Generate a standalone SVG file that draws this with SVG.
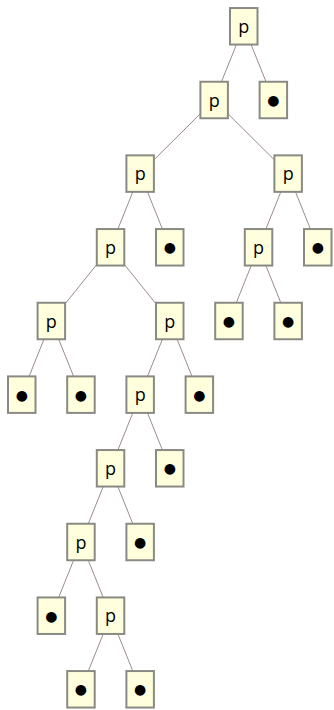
<svg xmlns="http://www.w3.org/2000/svg" width="334" height="710" viewBox="0 0 334 710">
<style>
.box{fill:#ffffdd;stroke:#8a8a84;stroke-width:2}
.lbl{font-family:"Open Sans","DejaVu Sans",sans-serif;font-size:18px;fill:#000;text-anchor:middle}
.dot{font-family:"DejaVu Sans",sans-serif;font-size:14px;fill:#000;text-anchor:middle}
#edges line{stroke:#9e8c8c;stroke-width:1}
</style>
<defs>
<rect id="bx" class="box" x="-13.75" y="-18.25" width="27.5" height="36.5"/>
</defs>
<rect width="334" height="710" fill="#fff"/>
<g id="edges">
<line x1="243.75" y1="26.3" x2="214.15" y2="100"/>
<line x1="243.75" y1="26.3" x2="273.35" y2="100"/>
<line x1="214.15" y1="100" x2="140.15" y2="173.6"/>
<line x1="214.15" y1="100" x2="288.15" y2="173.6"/>
<line x1="140.15" y1="173.6" x2="110.55" y2="247.3"/>
<line x1="140.15" y1="173.6" x2="169.75" y2="247.3"/>
<line x1="288.15" y1="173.6" x2="258.55" y2="247.3"/>
<line x1="288.15" y1="173.6" x2="317.75" y2="247.3"/>
<line x1="258.55" y1="247.3" x2="228.95" y2="321"/>
<line x1="258.55" y1="247.3" x2="288.15" y2="321"/>
<line x1="110.55" y1="247.3" x2="51.35" y2="321"/>
<line x1="110.55" y1="247.3" x2="169.75" y2="321"/>
<line x1="51.35" y1="321" x2="21.75" y2="394.65"/>
<line x1="51.35" y1="321" x2="80.95" y2="394.65"/>
<line x1="169.75" y1="321" x2="140.15" y2="394.65"/>
<line x1="169.75" y1="321" x2="199.35" y2="394.65"/>
<line x1="140.15" y1="394.65" x2="110.55" y2="468.3"/>
<line x1="140.15" y1="394.65" x2="169.75" y2="468.3"/>
<line x1="110.55" y1="468.3" x2="80.95" y2="542"/>
<line x1="110.55" y1="468.3" x2="140.15" y2="542"/>
<line x1="80.95" y1="542" x2="51.35" y2="615.7"/>
<line x1="80.95" y1="542" x2="110.55" y2="615.7"/>
<line x1="110.55" y1="615.7" x2="80.95" y2="689.3"/>
<line x1="110.55" y1="615.7" x2="140.15" y2="689.3"/>
</g>
<g id="n0" transform="translate(243.75,26.3)"><use href="#bx"/><text class="lbl" y="6.5">p</text></g>
<g id="n1" transform="translate(214.15,100)"><use href="#bx"/><text class="lbl" y="6.5">p</text></g>
<g id="n2" transform="translate(273.35,100)"><use href="#bx"/><text class="dot" y="5">●</text></g>
<g id="n3" transform="translate(140.15,173.6)"><use href="#bx"/><text class="lbl" y="6.5">p</text></g>
<g id="n4" transform="translate(288.15,173.6)"><use href="#bx"/><text class="lbl" y="6.5">p</text></g>
<g id="n5" transform="translate(110.55,247.3)"><use href="#bx"/><text class="lbl" y="6.5">p</text></g>
<g id="n6" transform="translate(169.75,247.3)"><use href="#bx"/><text class="dot" y="5">●</text></g>
<g id="n7" transform="translate(258.55,247.3)"><use href="#bx"/><text class="lbl" y="6.5">p</text></g>
<g id="n8" transform="translate(317.75,247.3)"><use href="#bx"/><text class="dot" y="5">●</text></g>
<g id="n9" transform="translate(51.35,321)"><use href="#bx"/><text class="lbl" y="6.5">p</text></g>
<g id="n10" transform="translate(169.75,321)"><use href="#bx"/><text class="lbl" y="6.5">p</text></g>
<g id="n23" transform="translate(228.95,321)"><use href="#bx"/><text class="dot" y="5">●</text></g>
<g id="n24" transform="translate(288.15,321)"><use href="#bx"/><text class="dot" y="5">●</text></g>
<g id="n11" transform="translate(21.75,394.65)"><use href="#bx"/><text class="dot" y="5">●</text></g>
<g id="n12" transform="translate(80.95,394.65)"><use href="#bx"/><text class="dot" y="5">●</text></g>
<g id="n13" transform="translate(140.15,394.65)"><use href="#bx"/><text class="lbl" y="6.5">p</text></g>
<g id="n14" transform="translate(199.35,394.65)"><use href="#bx"/><text class="dot" y="5">●</text></g>
<g id="n15" transform="translate(110.55,468.3)"><use href="#bx"/><text class="lbl" y="6.5">p</text></g>
<g id="n16" transform="translate(169.75,468.3)"><use href="#bx"/><text class="dot" y="5">●</text></g>
<g id="n17" transform="translate(80.95,542)"><use href="#bx"/><text class="lbl" y="6.5">p</text></g>
<g id="n18" transform="translate(140.15,542)"><use href="#bx"/><text class="dot" y="5">●</text></g>
<g id="n19" transform="translate(51.35,615.7)"><use href="#bx"/><text class="dot" y="5">●</text></g>
<g id="n20" transform="translate(110.55,615.7)"><use href="#bx"/><text class="lbl" y="6.5">p</text></g>
<g id="n21" transform="translate(80.95,689.3)"><use href="#bx"/><text class="dot" y="5">●</text></g>
<g id="n22" transform="translate(140.15,689.3)"><use href="#bx"/><text class="dot" y="5">●</text></g>
</svg>
